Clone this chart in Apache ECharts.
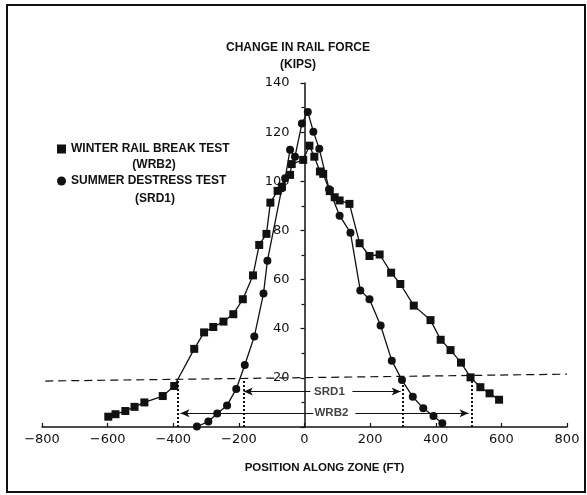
<!DOCTYPE html>
<html>
<head>
<meta charset="utf-8">
<script src="https://cdn.jsdelivr.net/npm/echarts@6/dist/echarts.min.js"></script>
<style>
  html, body { margin: 0; padding: 0; background: #fff; }
  #chart { width: 587px; height: 495px; }
</style>
</head>
<body>
<div id="chart"></div>
<script>
// ---- data ----
const xTicks = [-800, -600, -400, -200, 0, 200, 400, 600, 800];
const yTicks = [20, 40, 60, 80, 100, 120, 140];

const wrb2Name = 'WINTER RAIL BREAK TEST';
const wrb2Code = '(WRB2)';
const wrb2Pos  = [-598, -576, -546, -518, -488, -432, -397, -336, -306, -278, -247, -217, -188, -157, -138, -116, -104, -82, -69, -44, -39, -4, 15, 30, 47, 57, 77, 92, 107, 137, 168, 198, 229, 264, 292, 333, 384, 415, 445, 477, 506, 536, 564, 593];
const wrb2Kips = [4.2, 5.2, 6.5, 8.2, 10.0, 12.6, 16.7, 31.8, 38.5, 40.7, 42.9, 45.9, 52, 61.7, 74.1, 78.6, 91.3, 96.1, 97.8, 102.6, 107, 108.7, 114.5, 110, 104, 103, 96, 93.5, 92.2, 90.8, 74.8, 69.6, 70.2, 62.8, 58.2, 49.4, 43.5, 35.5, 31.3, 26.2, 20.2, 16.2, 13.7, 11.1];

const srd1Name = 'SUMMER DESTRESS TEST';
const srd1Code = '(SRD1)';
const srd1Pos  = [-328, -293, -266, -236, -208, -182, -153, -125, -113, -69, -59, -44, -29, -8, 10, 27, 45, 75, 107, 140, 170, 198, 232, 266, 297, 330, 362, 393, 420];
const srd1Kips = [0.2, 2.2, 5.5, 8.8, 15.5, 25.2, 36.8, 54.3, 67.7, 97.2, 101.2, 112.8, 110, 123.5, 128.2, 120.2, 113.2, 96.8, 86, 79.1, 55.6, 52, 41.3, 27, 19.1, 12.3, 7.6, 4.5, 1.5];

// dashed 20-kip reference line (two ends)
const refLinePos  = [-790, 800];
const refLineKips = [18.7, 21.5];

// dotted drop lines where each test crosses the reference line
const dropPos = [-387, -185, 298, 509];
const dropTop = [19.3, 19.6, 20.4, 20.9];

// zone-length arrows: from, to, kips
const arrowFrom = [18, 146, 27, 155];
const arrowTo   = [-185, 293, -378, 500];
const arrowKips = [14.4, 14.4, 5.6, 5.6];

// zone labels
const zoneLabels = ['SRD1', 'WRB2'];
const zonePos    = [76, 82];
const zoneKips   = [14.4, 5.6];

// ---- chart ----
const zip = (a, b) => a.map((v, i) => [v, b[i]]);
const ink = '#111';

const gridLeft = 42, gridWidth = 525;
const yAxisShift = -(gridWidth / 2); // put the value axis at position 0

const markData = [];
dropPos.forEach((p, i) => {
  markData.push([
    { coord: [p, 0], symbol: 'none', lineStyle: { type: [2, 2], width: 2, color: ink } },
    { coord: [p, dropTop[i]], symbol: 'none' }
  ]);
});
arrowFrom.forEach((p, i) => {
  markData.push([
    { coord: [p, arrowKips[i]], symbol: 'none', lineStyle: { type: 'solid', width: 1.2, color: ink } },
    { coord: [arrowTo[i], arrowKips[i]], symbol: 'arrow', symbolSize: [6, 9] }
  ]);
});

const chart = echarts.init(document.getElementById('chart'), null, { renderer: 'canvas' });
chart.setOption({
  backgroundColor: '#fff',
  animation: false,
  title: {
    text: 'CHANGE IN RAIL FORCE',
    subtext: '(KIPS)',
    left: 293, top: 36, textAlign: 'center', itemGap: 3,
    textStyle: { fontFamily: 'Liberation Sans', fontWeight: 'bold', fontSize: 12, lineHeight: 14, color: ink },
    subtextStyle: { fontFamily: 'Liberation Sans', fontWeight: 'bold', fontSize: 12, lineHeight: 14, color: ink }
  },
  legend: {
    orient: 'vertical', left: 57, top: 143, itemWidth: 9, itemHeight: 9, itemGap: 20, padding: 0,
    selectedMode: false,
    textStyle: { fontFamily: 'Liberation Sans', fontWeight: 'bold', fontSize: 12, color: ink },
    data: [{ name: wrb2Name, icon: 'rect' }, { name: srd1Name, icon: 'circle' }]
  },
  graphic: [
    { type: 'rect', shape: { x: 7, y: 5, width: 578, height: 487 }, style: { fill: 'none', stroke: ink, lineWidth: 2 }, silent: true },
    { type: 'text', x: 154, y: 165, style: { text: wrb2Code, align: 'center', verticalAlign: 'middle', font: 'bold 12px "Liberation Sans"', fill: ink } },
    { type: 'text', x: 155, y: 199, style: { text: srd1Code, align: 'center', verticalAlign: 'middle', font: 'bold 12px "Liberation Sans"', fill: ink } }
  ],
  grid: { left: gridLeft, width: gridWidth, top: 83, bottom: 68, containLabel: false },
  xAxis: {
    type: 'value', min: -800, max: 800, interval: 200,
    name: 'POSITION ALONG ZONE (FT)', nameLocation: 'middle', nameGap: 35,
    nameTextStyle: { fontFamily: 'Liberation Sans', fontWeight: 'bold', fontSize: 11.5, color: ink, padding: [0, 0, 0, 40] },
    axisLine: { lineStyle: { color: ink, width: 1.5 } },
    axisTick: { inside: true, length: 4, lineStyle: { color: ink, width: 1.2 } },
    splitLine: { show: false },
    axisLabel: {
      margin: 6, color: ink, fontFamily: 'DejaVu Sans', fontSize: 13,
      formatter: v => (v < 0 ? '\u2212' + Math.abs(v) : String(v))
    }
  },
  yAxis: {
    type: 'value', min: 0, max: 140, interval: 20,
    offset: yAxisShift,
    axisLine: { onZero: false, lineStyle: { color: ink, width: 1.5 } },
    axisTick: { length: 4, lineStyle: { color: ink, width: 1.2 } },
    minorTick: { show: true, splitNumber: 2, length: 3, lineStyle: { color: ink, width: 1.2 } },
    splitLine: { show: false },
    axisLabel: {
      margin: 15, color: ink, fontFamily: 'DejaVu Sans', fontSize: 13, showMinLabel: false,
      formatter: v => (yTicks.indexOf(v) >= 0 ? String(v) : '')
    }
  },
  series: [
    {
      name: 'ref', type: 'line', data: zip(refLinePos, refLineKips), symbol: 'none', silent: true,
      lineStyle: { color: ink, width: 1.2, type: [8, 5] }, z: 1,
      markLine: { silent: true, animation: false, label: { show: false }, data: markData }
    },
    {
      name: wrb2Name, type: 'line', data: zip(wrb2Pos, wrb2Kips),
      symbol: 'rect', symbolSize: 8, showAllSymbol: true,
      itemStyle: { color: ink }, lineStyle: { color: ink, width: 1.3 }, z: 3
    },
    {
      name: srd1Name, type: 'line', data: zip(srd1Pos, srd1Kips),
      symbol: 'circle', symbolSize: 8, showAllSymbol: true,
      itemStyle: { color: ink }, lineStyle: { color: ink, width: 1.3 }, z: 3
    },
    {
      name: 'zones', type: 'scatter', symbolSize: 0, silent: true,
      data: zonePos.map((p, i) => ({ value: [p, zoneKips[i]], label: { formatter: zoneLabels[i] } })),
      label: { show: true, position: 'inside', fontFamily: 'Liberation Sans', fontWeight: 'bold', fontSize: 11.5, color: ink }
    }
  ]
});
</script>
</body>
</html>
